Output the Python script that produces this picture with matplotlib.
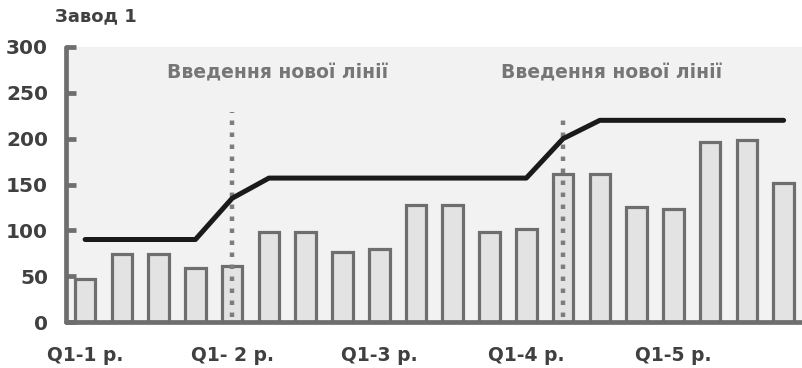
import matplotlib
matplotlib.use("Agg")
import matplotlib.pyplot as plt
import numpy as np

title = "Завод 1"
tick_labels = ["Q1-1 р.", "Q1- 2 р.", "Q1-3 р.", "Q1-4 р.", "Q1-5 р."]
tick_positions = [0, 4, 8, 12, 16]
bar_values = [47, 74, 74, 59, 61, 98, 98, 76, 80, 128,
              128, 98, 102, 162, 162, 126, 123, 196, 198, 152]
line_values = [90, 90, 90, 90, 135, 157, 157, 157, 157, 157,
               157, 157, 157, 200, 220, 220, 220, 220, 220, 220]
event_positions = [4, 13]
event_top = [229, 226]
event_label = "Введення нової лінії"
label_positions = [5.23, 14.33]
label_y = 272

W, H = 802, 368
fig = plt.figure(figsize=(W / 100, H / 100), dpi=100)
fig.patch.set_facecolor("white")
ax = fig.add_axes([66 / W, 1 - 322 / H, 1 - 66 / W, (322 - 47) / H])
ax.set_facecolor("#f2f2f2")

edge = "#6e6e6e"
x = np.arange(len(bar_values))
ax.bar(x, bar_values, width=0.56, color="#e3e3e3", edgecolor=edge, linewidth=2.3, zorder=2)

for xp, top in zip(event_positions, event_top):
    ax.plot([xp, xp], [5, top], color="#7d7d7d", linewidth=3.2,
            linestyle=(0, (1, 1.7)), dash_capstyle="butt", zorder=3)

ax.plot(x, line_values, color="#1a1a1a", linewidth=3.6, solid_capstyle="round",
        solid_joinstyle="round", zorder=4)

for lp in label_positions:
    ax.text(lp, label_y, event_label, ha="center", va="center", fontsize=13.5,
            fontweight="bold", color="#767676", zorder=5)

ax.set_xlim(-0.52, 19.5)
ax.set_ylim(0, 300)
ax.set_yticks([0, 50, 100, 150, 200, 250, 300])
ax.set_xticks(tick_positions)
ax.set_xticklabels(tick_labels)

for s in ["top", "right"]:
    ax.spines[s].set_visible(False)
for s in ["left", "bottom"]:
    ax.spines[s].set_color(edge)
    ax.spines[s].set_linewidth(3.4)
    ax.spines[s].set_capstyle("round")

ax.tick_params(axis="y", direction="in", length=7, width=3.4, color=edge, pad=13,
               labelsize=14.5, labelcolor="#404040")
ax.tick_params(axis="x", length=0, pad=17, labelsize=13.5, labelcolor="#404040")
for lbl in ax.get_yticklabels() + ax.get_xticklabels():
    lbl.set_fontweight("bold")

fig.text(55 / W, 1 - 16 / H, title, ha="left", va="center", fontsize=13,
         fontweight="bold", color="#404040")

fig.savefig("out.png", dpi=100, facecolor="white")
